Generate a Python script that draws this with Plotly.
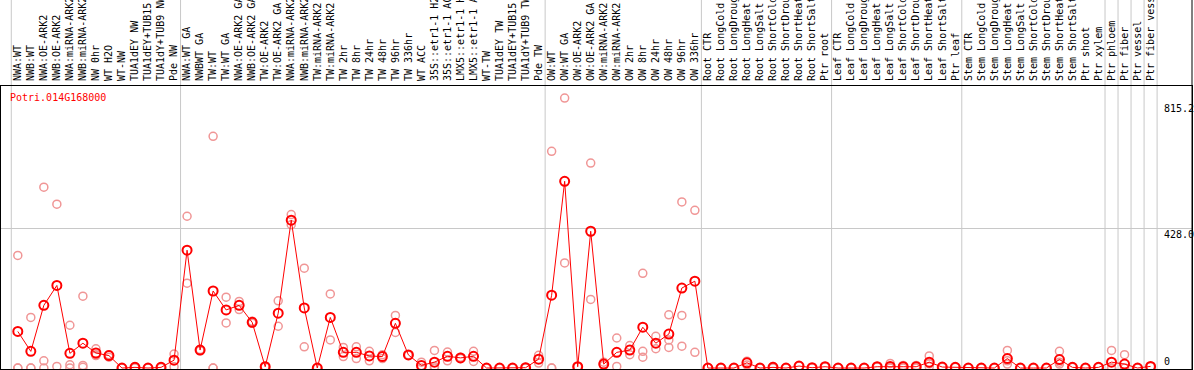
import plotly.graph_objects as go

labels = [
    "NWA:WT", "NWB:WT", "NWA:OE-ARK2", "NWB:OE-ARK2", "NWA:miRNA-ARK2", "NWB:miRNA-ARK2",
    "NW 0hr", "WT H2O", "WT-NW", "TUA1dEY NW", "TUA1dEY+TUB15 NW", "TUA1dY+TUB9 NW", "Pde NW",
    "NWA:WT GA", "NWBWT GA", "TW:WT", "TW:WT GA", "NWA:OE-ARK2 GA", "NWB:OE-ARK2 GA",
    "TW:OE-ARK2", "TW:OE-ARK2 GA", "NWA:miRNA-ARK2 GA", "NWB:miRNA-ARK2 GA", "TW:miRNA-ARK2",
    "TW:miRNA-ARK2 GA", "TW 2hr", "TW 8hr", "TW 24hr", "TW 48hr", "TW 96hr", "TW 336hr",
    "WT ACC", "35S::etr1-1 H2O", "35S::etr1-1 ACC", "LMX5::etr1-1 H2O", "LMX5::etr1-1 ACC",
    "WT-TW", "TUA1dEY TW", "TUA1dEY+TUB15 TW", "TUA1dY+TUB9 TW", "Pde TW",
    "OW:WT", "OW:WT GA", "OW:OE-ARK2", "OW:OE-ARK2 GA", "OW:miRNA-ARK2", "OW:miRNA-ARK2 GA",
    "OW 2hr", "OW 8hr", "OW 24hr", "OW 48hr", "OW 96hr", "OW 336hr",
    "Root CTR", "Root LongCold", "Root LongDrought", "Root LongHeat", "Root LongSalt",
    "Root ShortCold", "Root ShortDrought", "Root ShortHeat", "Root ShortSalt", "Ptr root",
    "Leaf CTR", "Leaf LongCold", "Leaf LongDrought", "Leaf LongHeat", "Leaf LongSalt",
    "Leaf ShortCold", "Leaf ShortDrought", "Leaf ShortHeat", "Leaf ShortSalt", "Ptr leaf",
    "Stem CTR", "Stem LongCold", "Stem LongDrought", "Stem LongHeat", "Stem LongSalt",
    "Stem ShortCold", "Stem ShortDrought", "Stem ShortHeat", "Stem ShortSalt", "Ptr shoot",
    "Ptr xylem", "Ptr phloem", "Ptr fiber", "Ptr vessel", "Ptr fiber vessel",
]

group_sizes = [13, 28, 12, 10, 10, 11, 1, 1, 1, 1]

mean = [
    112, 51, 192, 253, 45, 76, 46, 38, 0, 2, 0, 2, 24,
    361, 55, 236, 178, 192, 140, 4, 168, 453, 184, 0, 155, 48, 48, 37, 35, 137, 40,
    8, 18, 36, 31, 36, 0, 0, 0, 1, 27,
    223, 572, 4, 419, 12, 48, 55, 125, 76, 104, 245, 266,
    0, 0, 0, 16, 0, 2, 0, 6, 1, 4,
    0, 0, 0, 4, 5, 4, 4, 18, 3, 2,
    0, 0, 0, 29, 0, 0, 0, 26, 2, 0, 2,
    18, 12, 0, 5,
]

rep1 = [
    345, 155, 554, 502, 131, 220, 59, 41, 0, 4, 0, 3, 43,
    465, 57, 710, 217, 204, 143, 3, 206, 470, 306, 0, 227, 63, 65, 51, 41, 161, 41,
    18, 54, 49, 33, 51, 0, 0, 0, 2, 39,
    664, 827, 4, 628, 18, 92, 69, 290, 97, 163, 509, 483,
    0, 0, 0, 21, 0, 5, 0, 6, 1, 5,
    0, 0, 0, 5, 14, 8, 8, 37, 4, 2,
    0, 0, 0, 54, 0, 0, 0, 51, 2, 0, 2,
    54, 41, 0, 5,
]

rep2 = [
    0, 0, 22, 5, 10, 8, 41, 33, 0, 0, 0, 1, 4,
    260, 53, 0, 138, 179, 137, 5, 128, 439, 65, 0, 86, 35, 29, 22, 29, 109, 39,
    0, 5, 22, 29, 20, 0, 0, 0, 0, 15,
    0, 322, 4, 210, 8, 5, 41, 51, 59, 86, 161, 48,
    0, 0, 0, 9, 0, 0, 0, 6, 1, 3,
    0, 0, 0, 3, 0, 0, 0, 4, 2, 2,
    0, 0, 0, 22, 0, 0, 0, 18, 2, 0, 2,
    0, 0, 0, 5,
]

rep3 = [
    0, 0, 0, None, 0, 2, 38, 40, None, None, None, None, None,
    None, None, 0, None, None, None, None, None, None, None, None, None, None, None, None, None, None, None,
    None, 0, None, None, None, None, None, None, None, None,
    0, None, None, None, None, None, None, 33, None, 63, 67, None,
    None, None, None, None, None, None, None, None, None, None,
    None, None, None, None, 1, None, None, 13, None, None,
    None, None, None, 12, None, None, None, 12, None, None, None,
    0, 0, None, None,
]

y_tick_vals = [815.2, 428.0, 0]
y_tick_text = ["815.2", "428.0", "0"]
gene_id = "Potri.014G168000"

x = list(range(len(labels)))
FONT = "DejaVu Sans Mono"
RED = "#ff0000"
PINK = "#f09696"
GRID = "#c8c8c8"

fig = go.Figure()
for rep in (rep1, rep2, rep3):
    fig.add_trace(go.Scatter(
        x=x, y=rep, mode="markers",
        marker=dict(symbol="circle-open", size=8, color=PINK, line=dict(width=1.5, color=PINK)),
        hoverinfo="skip", showlegend=False, cliponaxis=False,
    ))
fig.add_trace(go.Scatter(
    x=x, y=mean, mode="lines+markers",
    line=dict(color=RED, width=1),
    marker=dict(symbol="circle-open", size=9, color=RED, line=dict(width=2, color=RED)),
    showlegend=False, cliponaxis=False,
))

# group boundary lines
shapes = []
b = -0.5
bounds = [b]
for s in group_sizes:
    b += s
    bounds.append(b)
for bx in bounds:
    shapes.append(dict(type="line", xref="x", yref="paper", x0=bx, x1=bx, y0=0, y1=1.31,
                       line=dict(color=GRID, width=1), layer="below"))
# right frame edge through label area
shapes.append(dict(type="line", xref="paper", yref="paper", x0=1, x1=1, y0=0, y1=1.31,
                   line=dict(color="black", width=1)))

annotations = [dict(text=gene_id, xref="paper", yref="paper", x=0.0055, y=0.985,
                    xanchor="left", yanchor="top", showarrow=False,
                    font=dict(family=FONT, size=10, color=RED))]
for v, t in zip(y_tick_vals, y_tick_text):
    annotations.append(dict(text=t, xref="paper", yref="y", x=0.9755, y=v,
                            xanchor="left", yanchor="bottom" if v == 0 else "top",
                            showarrow=False, borderpad=0,
                            font=dict(family=FONT, size=10, color="black")))

fig.update_layout(
    width=1194, height=370,
    margin=dict(l=1, r=2, t=86, b=1, pad=0, autoexpand=False),
    paper_bgcolor="white", plot_bgcolor="white",
    shapes=shapes, annotations=annotations,
    xaxis=dict(
        side="top", range=[-1.29, 90.18], tickmode="array", tickvals=x, ticktext=labels,
        tickangle=-90, tickfont=dict(family=FONT, size=10, color="black"),
        showgrid=False, zeroline=False, showline=True, linecolor="black", linewidth=1,
        mirror=True, ticks="", ticklabelstandoff=2, automargin=False,
    ),
    yaxis=dict(
        range=[-3, 864], tickmode="array", tickvals=[428.0], showticklabels=False,
        showgrid=True, gridcolor=GRID, gridwidth=1, zeroline=False, automargin=False,
        showline=True, linecolor="black", linewidth=1, mirror=True, ticks="",
    ),
)

fig.write_html("out.html", config={"displayModeBar": False},
               post_script="document.body.style.margin='0';")
